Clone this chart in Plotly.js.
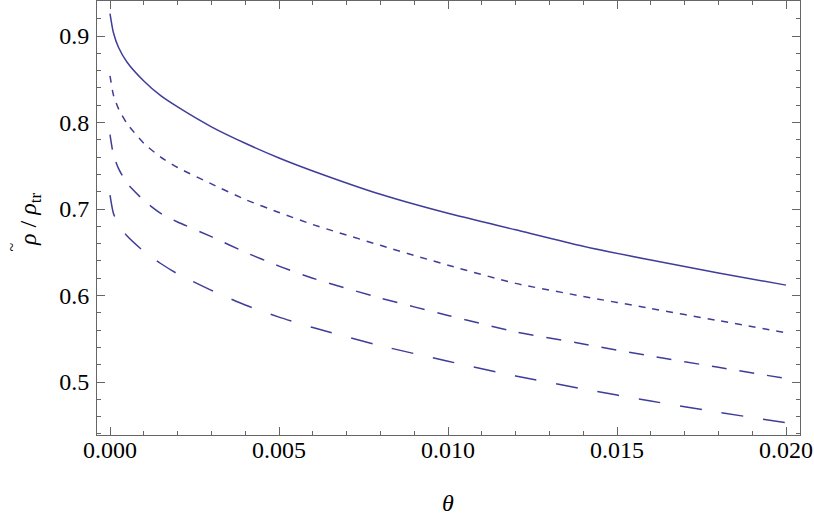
<!DOCTYPE html>
<html>
<head>
<meta charset="utf-8">
<script src="https://cdn.plot.ly/plotly-3.0.1.min.js"></script>
<style>
  html, body { margin: 0; padding: 0; background: #fff; }
  #chart { width: 814px; height: 516px; }
</style>
</head>
<body>
<div id="chart"></div>
<script>
  // theta grid and the four curves
  var theta = [0, 0.0001, 0.00025, 0.0005, 0.001, 0.0015, 0.002, 0.003, 0.004, 0.005,
               0.006, 0.008, 0.010, 0.012, 0.014, 0.016, 0.018, 0.020];
  var rhoSolid = [0.926, 0.904, 0.887, 0.870, 0.848, 0.831, 0.818, 0.795, 0.776, 0.759,
                  0.744, 0.717, 0.695, 0.676, 0.657, 0.641, 0.626, 0.612];
  var rhoDot = [0.854, 0.832, 0.816, 0.799, 0.776, 0.760, 0.748, 0.729, 0.711, 0.696,
                0.682, 0.658, 0.635, 0.614, 0.599, 0.585, 0.571, 0.557];
  var rhoDash = [0.786, 0.763, 0.747, 0.730, 0.710, 0.695, 0.685, 0.668, 0.650, 0.634,
                 0.620, 0.597, 0.577, 0.558, 0.544, 0.530, 0.517, 0.504];
  var rhoLong = [0.716, 0.695, 0.682, 0.669, 0.651, 0.637, 0.625, 0.606, 0.589, 0.575,
                 0.563, 0.542, 0.524, 0.507, 0.492, 0.478, 0.465, 0.453];

  var BLUE = "#3f3d99", FRAME = "#666";
  var SERIF = "'Liberation Serif', 'Times New Roman', Times, serif";
  var XR = [-0.000385, 0.020414], YR = [0.43873, 0.94046];

  function curve(y, dash) {
    return {
      x: theta, y: y, mode: "lines", hoverinfo: "skip",
      line: { color: BLUE, width: 1.5, dash: dash, shape: "spline", smoothing: 0.6 }
    };
  }
  var traces = [
    curve(rhoSolid, "solid"),
    curve(rhoDot, "7px,7px"),
    curve(rhoDash, "15px,13px"),
    curve(rhoLong, "22px,20px"),
    // empty trace so the top/right tick axes get drawn
    { x: [], y: [], xaxis: "x2", yaxis: "y2", mode: "lines", hoverinfo: "skip" }
  ];

  function axis(extra) {
    var a = {
      showgrid: false, zeroline: false, showline: true,
      linecolor: FRAME, linewidth: 1,
      ticks: "inside", ticklen: 8, tickwidth: 1, tickcolor: FRAME,
      tickfont: { family: SERIF, size: 24, color: "#000" }
    };
    for (var k in extra) a[k] = extra[k];
    return a;
  }
  var xMinor = { dtick: 0.001, ticks: "inside", ticklen: 4, tickcolor: FRAME };
  var yMinor = { dtick: 0.02, ticks: "inside", ticklen: 4, tickcolor: FRAME };
  var titleFont = { family: SERIF, size: 24, color: "#000" };

  var layout = {
    width: 814, height: 516,
    margin: { l: 97, r: 14, t: 1, b: 81 },
    paper_bgcolor: "#fff", plot_bgcolor: "#fff",
    showlegend: false,
    xaxis: axis({
      range: XR, tick0: 0, dtick: 0.005, tickformat: ".3f", minor: xMinor,
      ticklabelstandoff: -7
    }),
    yaxis: axis({
      range: YR, tick0: 0, dtick: 0.1, tickformat: ".1f", minor: yMinor,
      ticklabelstandoff: 2
    }),
    xaxis2: axis({
      overlaying: "x", side: "top", range: XR, tick0: 0, dtick: 0.005, minor: xMinor,
      showticklabels: false, anchor: "y2"
    }),
    yaxis2: axis({
      overlaying: "y", side: "right", range: YR, tick0: 0, dtick: 0.1, minor: yMinor,
      showticklabels: false, anchor: "x2"
    }),
    annotations: [{
      // x axis title
      text: "<i>θ</i>", xref: "paper", yref: "paper",
      x: 0.4993, y: -0.157, xanchor: "center", yanchor: "middle",
      showarrow: false, font: titleFont
    }, {
      // y axis title, rotated like the reference
      text: "<i>ρ</i> / <i>ρ</i><sub>tr</sub>", xref: "paper", yref: "paper",
      x: -0.0953, y: 0.4954, xanchor: "center", yanchor: "middle",
      showarrow: false, textangle: -90, font: titleFont
    }, {
      // tilde over the first rho
      text: "~", xref: "paper", yref: "paper", x: -0.1215, y: 0.4332,
      xanchor: "center", yanchor: "middle",
      showarrow: false, textangle: -90,
      font: { family: SERIF, size: 16, color: "#000" }
    }]
  };

  Plotly.newPlot("chart", traces, layout, { displayModeBar: false, staticPlot: true });
</script>
</body>
</html>
